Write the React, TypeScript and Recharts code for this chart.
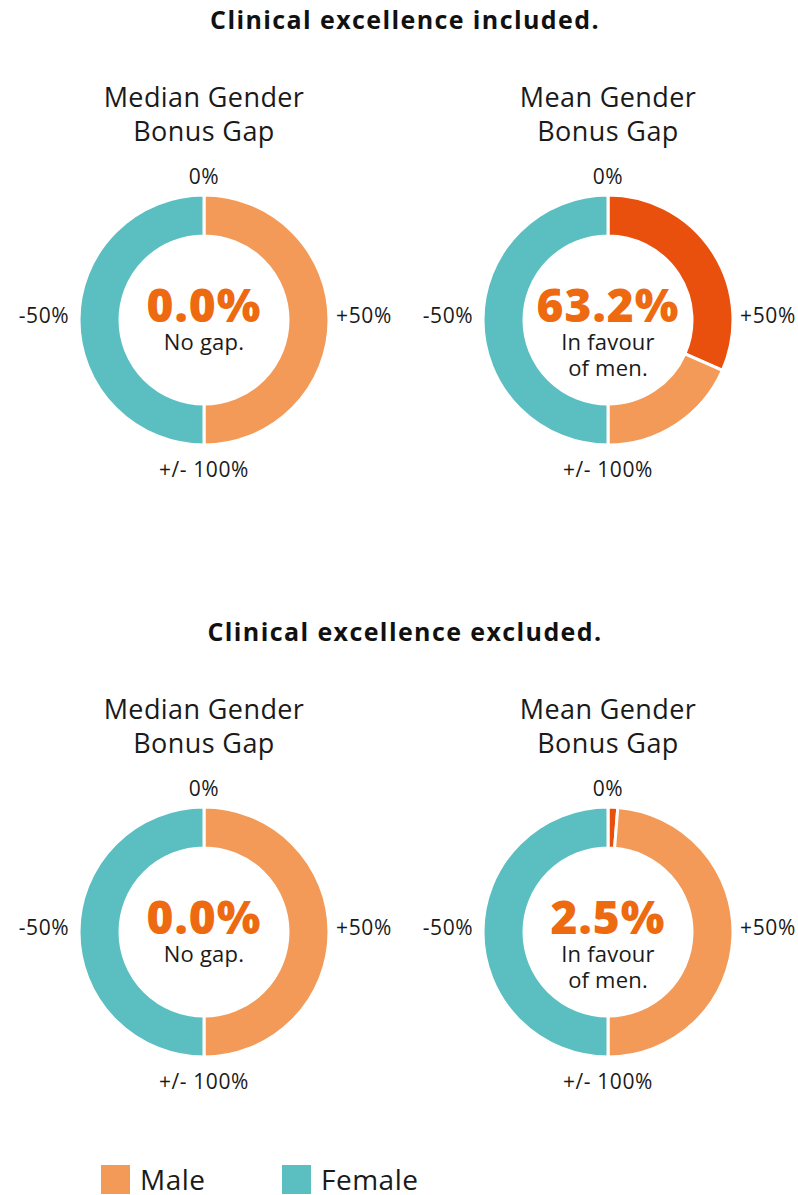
import { PieChart, Pie, Cell } from 'recharts'

const sections = ['Clinical excellence included.', 'Clinical excellence excluded.']
const chartTitles = [['Median Gender', 'Bonus Gap'], ['Mean Gender', 'Bonus Gap']]
// gap values, in the order: included median, included mean, excluded median, excluded mean
const gapValues = [0.0, 63.2, 0.0, 2.5]
const gapCaptions = [['No gap.'], ['In favour', 'of men.'], ['No gap.'], ['In favour', 'of men.']]
const scaleLabels = ['0%', '+50%', '+/- 100%', '-50%']
const legendItems = ['Male', 'Female']

const TEAL = '#5bbfc2'
const ORANGE = '#f39a58'
const DARK = '#e9500e'
const TEXT_ORANGE = '#ee6a10'
const FONT = '"Open Sans", Lato, sans-serif'

const centers = [
  { x: 204, y: 320 },
  { x: 608, y: 320 },
  { x: 204, y: 932 },
  { x: 608, y: 932 },
]

function segments(gap: number) {
  return [
    { name: 'Gap', value: gap, color: DARK },
    { name: 'Male', value: 100 - gap, color: ORANGE },
    { name: 'Female', value: 100, color: TEAL },
  ].filter((d) => d.value > 0)
}

function Txt({ x, y, size, weight = 400, color = '#1a1a1a', ls = 0, children }: any) {
  return (
    <div
      style={{
        position: 'absolute',
        left: x,
        top: y,
        transform: 'translate(-50%, -50%)',
        whiteSpace: 'nowrap',
        fontSize: size,
        fontWeight: weight,
        letterSpacing: ls,
        color,
        lineHeight: 0.85,
        fontFamily: FONT,
      }}
    >
      {children}
    </div>
  )
}

export default function App() {
  return (
    <div style={{ position: 'absolute', left: 0, top: 0, width: 798, height: 1195, background: '#fff' }}>
      <div style={{ position: 'absolute', left: 0, top: 0 }}>
        <PieChart width={798} height={1195} margin={{ top: 0, right: 0, bottom: 0, left: 0 }}>
          {gapValues.map((g, i) => (
            <Pie
              key={i}
              data={segments(g)}
              dataKey="value"
              cx={centers[i].x}
              cy={centers[i].y}
              innerRadius={84}
              outerRadius={125}
              startAngle={90}
              endAngle={-270}
              stroke="#fff"
              strokeWidth={3}
              isAnimationActive={false}
            >
              {segments(g).map((d) => (
                <Cell key={d.name} fill={d.color} />
              ))}
            </Pie>
          ))}
        </PieChart>
      </div>

      {sections.map((s, k) => (
        <Txt key={s} x={405} y={20 + k * 612} size={25} weight={700} color="#111" ls={1.4}>
          {s}
        </Txt>
      ))}

      {centers.map((c, i) => (
        <div key={i}>
          <Txt x={c.x} y={c.y - 223} size={27} ls={0.4}>{chartTitles[i % 2][0]}</Txt>
          <Txt x={c.x} y={c.y - 189} size={27} ls={0.4}>{chartTitles[i % 2][1]}</Txt>
          <Txt x={c.x} y={c.y - 143} size={21} ls={0.6}>{scaleLabels[0]}</Txt>
          <Txt x={c.x + 160} y={c.y - 4} size={21} ls={0.6}>{scaleLabels[1]}</Txt>
          <Txt x={c.x} y={c.y + 150} size={21} ls={0.6}>{scaleLabels[2]}</Txt>
          <Txt x={c.x - 160} y={c.y - 4} size={21} ls={0.6}>{scaleLabels[3]}</Txt>
          <Txt x={c.x} y={c.y - 15} size={46} weight={800} color={TEXT_ORANGE} ls={1}>
            {gapValues[i].toFixed(1)}%
          </Txt>
          {gapCaptions[i].map((line, j) => (
            <Txt key={line} x={c.x} y={c.y + 21 + j * 26} size={22} ls={0.2}>
              {line}
            </Txt>
          ))}
        </div>
      ))}

      {legendItems.map((name, i) => (
        <div
          key={name}
          style={{
            position: 'absolute',
            left: 101 + i * 181,
            top: 1165,
            display: 'flex',
            alignItems: 'center',
            fontFamily: FONT,
            fontSize: 28,
            fontWeight: 400,
            letterSpacing: 0.5,
            color: '#1a1a1a',
          }}
        >
          <div style={{ width: 29, height: 29, background: i === 0 ? ORANGE : TEAL, marginRight: 10 }} />
          <span style={{ lineHeight: '29px' }}>{name}</span>
        </div>
      ))}
    </div>
  )
}
